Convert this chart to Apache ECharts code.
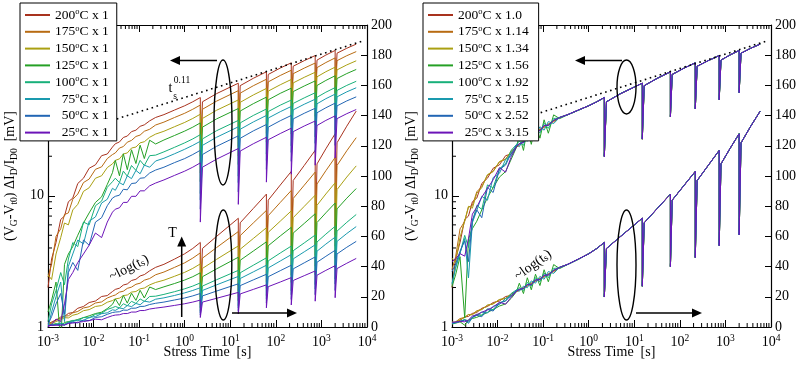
<!DOCTYPE html>
<html><head><meta charset="utf-8">
<script src="https://cdn.jsdelivr.net/npm/echarts@6/dist/echarts.min.js"></script>
<style>html,body{margin:0;padding:0;background:#fff}#c{width:800px;height:365px}</style>
</head><body><div id="c"></div>
<script>
// ---------- data (stress time in s, shift in mV) ----------
const times = [0.001, 0.0012, 0.0015, 0.0019, 0.0023, 0.0028, 0.0035, 0.0045, 0.006, 0.008, 0.011, 0.015, 0.02, 0.026,
  0.03, 0.037, 0.045, 0.055, 0.068, 0.085, 0.105, 0.13, 0.17, 0.23,
  0.35, 0.6, 1.0, 1.5, 2.2,
  2.2, 2.45, 5, 15,
  15, 16.5, 32, 62,
  62, 68, 125, 218,
  218, 240, 420, 730,
  730, 800, 1250, 2000,
  2000, 2200, 3600, 5800];

const temps = [200, 175, 150, 125, 100, 75, 50, 25];
const scaleFactors = [1.0, 1.14, 1.34, 1.56, 1.92, 2.15, 2.52, 3.15];
const factorLabels = ['1.0', '1.14', '1.34', '1.56', '1.92', '2.15', '2.52', '3.15'];

const dV200 = [2.0, 3.3, 4.4, 6.6, 7.0, 9.0, 9.6, 12.4, 13.6, 16.2, 17.2, 20.2, 20.8, 23.5,
  24.9, 25.7, 27.8, 28.5, 30.8, 31.6, 33.8, 34.7, 37.2, 39.5,
  41.5, 45.0, 48.5, 52.0, 56.0,
  20.0, 52.0, 60.0, 72.0,
  27.0, 69.0, 78.5, 88.0,
  40.0, 84.0, 94.0, 103,
  46.0, 97.0, 107, 117,
  54.0, 108, 118, 128,
  61.0, 122, 133, 143];
const dV175 = [2.4, 3.0, 4.9, 5.6, 7.2, 7.4, 9.4, 10.3, 12.6, 13.4, 15.9, 16.6, 19.2, 20.6,
  21.2, 23.1, 23.7, 25.6, 26.4, 28.3, 29.0, 31.0, 32.1, 34.6,
  36.4, 39.5, 42.5, 45.6, 49.1,
  17.5, 45.6, 52.6, 63.2,
  23.7, 60.5, 68.9, 77.2,
  35.1, 73.7, 82.5, 90.4,
  40.4, 85.1, 93.9, 102.6,
  47.4, 94.7, 103.5, 112.3,
  53.5, 107.0, 116.7, 125.4];
const dV150 = [2.5, 2.3, 3.6, 4.8, 6.2, 6.0, 7.8, 8.6, 10.8, 11.5, 13.6, 14.2, 16.4, 17.5,
  18.6, 19.1, 20.8, 21.2, 23.1, 23.5, 25.3, 25.8, 27.9, 29.5,
  31.0, 33.6, 36.2, 38.8, 41.8,
  14.9, 38.8, 44.8, 53.7,
  20.1, 51.5, 58.6, 65.7,
  29.9, 62.7, 70.1, 76.9,
  34.3, 72.4, 79.9, 87.3,
  40.3, 80.6, 88.1, 95.5,
  45.5, 91.0, 99.3, 106.7];
const dV125 = [1.3, 1.6, 2.2, 0.75, 3.0, 3.6, 4.1, 5.0, 6.2, 7.4, 8.9, 9.8, 12.2, 15.0,
  18.6, 14.2, 20.9, 15.8, 22.4, 17.6, 24.3, 19.2, 26.5, 24.8,
  26.6, 28.8, 31.1, 33.3, 35.9,
  12.8, 33.3, 38.5, 46.2,
  17.3, 44.2, 50.3, 56.4,
  25.6, 53.8, 60.3, 66.0,
  29.5, 62.2, 68.6, 75.0,
  34.6, 69.2, 75.6, 82.1,
  39.1, 78.2, 85.3, 91.7];
const dV100 = [1.1, 1.5, 1.9, 2.6, 2.1, 3.3, 4.4, 4.1, 6.3, 6.0, 8.4, 9.1, 11.6, 12.8,
  13.6, 12.6, 15.4, 14.1, 17.0, 15.6, 18.6, 17.0, 20.2, 20.4,
  21.6, 23.4, 25.3, 27.1, 29.2,
  10.4, 27.1, 31.3, 37.5,
  14.1, 35.9, 40.9, 45.8,
  20.8, 43.8, 49.0, 53.6,
  24.0, 50.5, 55.7, 60.9,
  28.1, 56.3, 61.5, 66.7,
  31.8, 63.5, 69.3, 74.5];
const dV75 = [1.0, 1.3, 1.7, 2.2, 1.1, 2.9, 3.6, 4.6, 4.3, 6.4, 6.9, 8.8, 9.4, 11.4,
  11.0, 12.6, 12.1, 14.2, 13.5, 15.6, 14.7, 17.1, 16.5, 18.4,
  19.3, 20.9, 22.6, 24.2, 26.0,
  9.3, 24.2, 27.9, 33.5,
  12.6, 32.1, 36.5, 40.9,
  18.6, 39.1, 43.7, 47.9,
  21.4, 45.1, 49.8, 54.4,
  25.1, 50.2, 54.9, 59.5,
  28.4, 56.7, 61.9, 66.5];
const dV50 = [1.05, 1.2, 1.5, 1.8, 1.25, 2.6, 3.1, 2.7, 4.6, 4.2, 6.3, 6.8, 8.4, 9.6,
  9.9, 10.1, 11.2, 11.1, 12.4, 12.5, 13.6, 13.7, 14.9, 15.7,
  16.5, 17.9, 19.2, 20.6, 22.2,
  7.9, 20.6, 23.8, 28.6,
  10.7, 27.4, 31.2, 34.9,
  15.9, 33.3, 37.3, 40.9,
  18.3, 38.5, 42.5, 46.4,
  21.4, 42.9, 46.8, 50.8,
  24.2, 48.4, 52.8, 56.7];
const dV25 = [1.0, 1.05, 1.15, 1.1, 1.5, 2.3, 2.6, 3.1, 3.6, 4.2, 5.2, 4.8, 6.3, 7.5,
  7.9, 8.1, 8.9, 8.9, 9.9, 9.9, 10.9, 10.9, 11.9, 12.5,
  13.2, 14.3, 15.4, 16.5, 17.8,
  6.3, 16.5, 19.0, 22.9,
  8.6, 21.9, 24.9, 27.9,
  12.7, 26.7, 29.8, 32.7,
  14.6, 30.8, 34.0, 37.1,
  17.1, 34.3, 37.5, 40.6,
  19.4, 38.7, 42.2, 45.4];

const powerLawT = [0.0324, 8000];
const powerLawV = [38.5, 151];

const xDecades = [0.001, 0.01, 0.1, 1, 10, 100, 1000];
const yDecades = [1, 10, 100];
const minorSteps = [2, 3, 4, 5, 6, 7, 8, 9];

// ---------- style ----------
const colors = ['#a8321e', '#b86b12', '#aaa012', '#25a025', '#18b07a', '#1a9aae', '#2266b4', '#6c14b8'];
const F = '"Liberation Serif","Times New Roman",serif';
const allData = [dV200, dV175, dV150, dV125, dV100, dV75, dV50, dV25];

const minorX = xDecades.flatMap(d => minorSteps.map(k => k * d));
const minorY = yDecades.flatMap(d => minorSteps.map(k => k * d)).filter(v => v < 200);

function xAxisBottom(gi) {
  return {
    type: 'log', logBase: 10, gridIndex: gi, position: 'bottom', min: 0.001, max: 10000,
    axisLine: {show: true, onZero: false, lineStyle: {color: '#000', width: 1.2}},
    axisTick: {show: true, inside: true, length: 7, lineStyle: {color: '#000', width: 1}},
    splitLine: {show: false},
    axisLabel: {
      show: true, margin: 6, color: '#000',
      formatter: v => '{b|10}{e|' + Math.round(Math.log10(v)) + '}',
      rich: {
        b: {fontSize: 14, fontFamily: F, color: '#000', lineHeight: 18},
        e: {fontSize: 9.5, fontFamily: F, color: '#000', verticalAlign: 'top', lineHeight: 10}
      }
    },
    name: 'Stress Time  [s]', nameLocation: 'middle', nameGap: 18, nameMoveOverlap: false,
    nameTextStyle: {fontSize: 14, fontFamily: F, color: '#000'}
  };
}
function xAxisTop(gi) {
  return {
    type: 'log', logBase: 10, gridIndex: gi, position: 'top', min: 0.001, max: 10000,
    axisLine: {show: true, onZero: false, lineStyle: {color: '#000', width: 1.2}},
    axisTick: {show: true, inside: true, length: 7, lineStyle: {color: '#000', width: 1}},
    splitLine: {show: false}, axisLabel: {show: false}
  };
}
const yName = '(V{sub|G}-V{sub|t0}) ΔI{sub|D}/I{sub|D0}  [mV]';
function yAxisLog(gi, gap) {
  return {
    type: 'log', logBase: 10, gridIndex: gi, position: 'left', min: 1, max: 200,
    axisLine: {show: true, onZero: false, lineStyle: {color: '#000', width: 1.2}},
    axisTick: {show: true, inside: true, length: 7, lineStyle: {color: '#000', width: 1}},
    splitLine: {show: false},
    axisLabel: {margin: 4, fontSize: 14, fontFamily: F, color: '#000', formatter: v => String(Math.round(v))},
    name: yName, nameLocation: 'middle', nameRotate: 90, nameGap: gap, nameMoveOverlap: false,
    nameTextStyle: {
      fontSize: 14, fontFamily: F, color: '#000', lineHeight: 18,
      rich: {sub: {fontSize: 9.5, fontFamily: F, color: '#000', verticalAlign: 'bottom', lineHeight: 10}}
    }
  };
}
function yAxisLin(gi) {
  return {
    type: 'value', gridIndex: gi, position: 'right', min: 0, max: 200, interval: 20,
    axisLine: {show: true, onZero: false, lineStyle: {color: '#000', width: 1.2}},
    axisTick: {show: true, inside: true, length: 6, lineStyle: {color: '#000', width: 1}},
    splitLine: {show: false},
    axisLabel: {margin: 4, fontSize: 14, fontFamily: F, color: '#000'}
  };
}

function lineSeries(name, xi, yi, data, color) {
  return {
    type: 'line', name, xAxisIndex: xi, yAxisIndex: yi, data,
    symbol: 'none', showSymbol: false, animation: false, silent: true,
    lineStyle: {width: 1, color}, itemStyle: {color}, clip: true
  };
}

function minorXSeries(xi, yi) {
  return {
    type: 'custom', name: 'xminor', xAxisIndex: xi, yAxisIndex: yi, silent: true, animation: false, z: 3,
    data: minorX.map(v => [v, 1]),
    renderItem(params, api) {
      const v = api.value(0);
      const b = api.coord([v, 1]);
      const t = api.coord([v, 200]);
      return {type: 'group', children: [
        {type: 'line', shape: {x1: b[0], y1: b[1], x2: b[0], y2: b[1] - 4}, style: {stroke: '#000', lineWidth: 1}},
        {type: 'line', shape: {x1: t[0], y1: t[1], x2: t[0], y2: t[1] + 4}, style: {stroke: '#000', lineWidth: 1}}
      ]};
    }
  };
}
function minorYSeries(xi, yi) {
  return {
    type: 'custom', name: 'yminor', xAxisIndex: xi, yAxisIndex: yi, silent: true, animation: false, z: 3,
    data: minorY.map(v => [0.001, v]),
    renderItem(params, api) {
      const p = api.coord([0.001, api.value(1)]);
      return {type: 'line', shape: {x1: p[0], y1: p[1], x2: p[0] + 4, y2: p[1]}, style: {stroke: '#000', lineWidth: 1}};
    }
  };
}

const series = [];
const namesL = [], namesR = [];
temps.forEach((T, i) => {
  const nL = T + '°C x 1';
  const nR = T + '°C x ' + factorLabels[i];
  namesL.push(nL); namesR.push(nR);
  const ptsL = times.map((t, j) => [t, allData[i][j]]);
  const ptsR = times.map((t, j) => [t, allData[i][j] * scaleFactors[i]]);
  series.push(lineSeries(nL, 0, 0, ptsL, colors[i]));
  series.push(lineSeries(nL, 0, 1, ptsL, colors[i]));
  series.push(lineSeries(nR, 2, 2, ptsR, colors[i]));
  series.push(lineSeries(nR, 2, 3, ptsR, colors[i]));
});
const plaw = powerLawT.map((t, j) => [t, powerLawV[j]]);
[[0, 0], [2, 2]].forEach(([xi, yi]) => {
  series.push({type: 'line', name: 'powerlaw', xAxisIndex: xi, yAxisIndex: yi, data: plaw, symbol: 'none',
    animation: false, silent: true, z: 4, lineStyle: {color: '#000', width: 1.6, type: [1.6, 3.6]}});
});
series.push(minorXSeries(0, 0), minorXSeries(2, 2), minorYSeries(0, 0), minorYSeries(2, 2));

function legend(names, left, padRight) {
  return {
    show: true, orient: 'vertical', left, top: 3, data: names, selectedMode: false,
    icon: 'rect', itemWidth: 25, itemHeight: 2, itemGap: 2.3, padding: [4.5, padRight, 1.3, 5],
    backgroundColor: '#fff', borderColor: '#000', borderWidth: 1, borderRadius: 0, z: 10,
    formatter: name => {
      const m = name.match(/^(\d+)°C x (.+)$/);
      const pad = m[1].length < 3 ? '{p| }' : '';
      return pad + '{n|' + m[1] + '}{o|o}{c|C x ' + m[2] + '}';
    },
    textStyle: {
      color: '#000', fontFamily: F, fontSize: 13.5,
      rich: {
        p: {fontSize: 13.5, fontFamily: F, width: 6.75, lineHeight: 15},
        n: {fontSize: 13.5, fontFamily: F, color: '#000', lineHeight: 15},
        o: {fontSize: 8.5, fontFamily: F, color: '#000', verticalAlign: 'top', lineHeight: 8},
        c: {fontSize: 13.5, fontFamily: F, color: '#000', lineHeight: 15}
      }
    }
  };
}

// ---------- annotations ----------
const S = {stroke: '#000', lineWidth: 1.4, fill: 'none'};
function arrowH(x1, x2, y, tipX) {
  const dir = tipX < x1 ? -1 : 1;
  return [
    {type: 'line', shape: {x1, y1: y, x2, y2: y}, style: {stroke: '#000', lineWidth: 1.5}},
    {type: 'polygon', shape: {points: [[tipX, y], [tipX - dir * 10, y - 4.5], [tipX - dir * 10, y + 4.5]]}, style: {fill: '#000'}}
  ];
}
const subRich = {s: {fontSize: 9.5, fontFamily: F, fill: '#000', verticalAlign: 'bottom', lineHeight: 10}};
const graphics = [
  {type: 'ellipse', shape: {cx: 223, cy: 122.5, rx: 9, ry: 62.5}, style: S},
  {type: 'ellipse', shape: {cx: 223.3, cy: 265, rx: 8.5, ry: 55}, style: S},
  {type: 'ellipse', shape: {cx: 626.5, cy: 87, rx: 9.5, ry: 27}, style: S},
  {type: 'ellipse', shape: {cx: 626.5, cy: 265, rx: 9.5, ry: 55}, style: S},
  ...arrowH(180, 217, 60.5, 170),
  ...arrowH(585, 622, 60.5, 575),
  ...arrowH(232, 288, 313, 297),
  ...arrowH(636, 693, 313, 702),
  {type: 'line', shape: {x1: 181.7, y1: 317, x2: 181.7, y2: 245}, style: {stroke: '#000', lineWidth: 1.5}},
  {type: 'polygon', shape: {points: [[181.7, 236.5], [177.2, 246.5], [186.2, 246.5]]}, style: {fill: '#000'}},
  {type: 'text', x: 172.5, y: 233, style: {text: 'T', font: '14px ' + F, fill: '#000', align: 'center', verticalAlign: 'middle'}},
  {type: 'text', x: 170.5, y: 88, style: {text: 't', font: '14px ' + F, fill: '#000', align: 'center', verticalAlign: 'middle'}},
  {type: 'text', x: 175, y: 96, style: {text: 's', font: '9.5px ' + F, fill: '#000', align: 'center', verticalAlign: 'middle'}},
  {type: 'text', x: 182, y: 80.5, style: {text: '0.11', font: '9.5px ' + F, fill: '#000', align: 'center', verticalAlign: 'middle'}},
  {type: 'text', x: 129, y: 268, rotation: 0.47, style: {text: '~log(t{s|s})', font: '14px ' + F, fill: '#000', align: 'center', verticalAlign: 'middle', rich: subRich}},
  {type: 'text', x: 533, y: 265, rotation: 0.62, style: {text: '~log(t{s|s})', font: '14px ' + F, fill: '#000', align: 'center', verticalAlign: 'middle', rich: subRich}}
].map(e => Object.assign({z: 100, silent: true}, e));

const chart = echarts.init(document.getElementById('c'), null, {renderer: 'canvas'});
chart.setOption({
  animation: false,
  backgroundColor: '#fff',
  textStyle: {fontFamily: F},
  grid: [
    {left: 48, right: 433, top: 25, bottom: 38, containLabel: false, outerBoundsMode: 'none'},
    {left: 452, right: 29, top: 25, bottom: 38, containLabel: false, outerBoundsMode: 'none'}
  ],
  xAxis: [xAxisBottom(0), xAxisTop(0), xAxisBottom(1), xAxisTop(1)],
  yAxis: [yAxisLog(0, 29), yAxisLin(0), yAxisLog(1, 32), yAxisLin(1)],
  legend: [legend(namesL, 20, 8), legend(namesR, 423, 10)],
  series,
  graphic: graphics
});
</script>
</body></html>
